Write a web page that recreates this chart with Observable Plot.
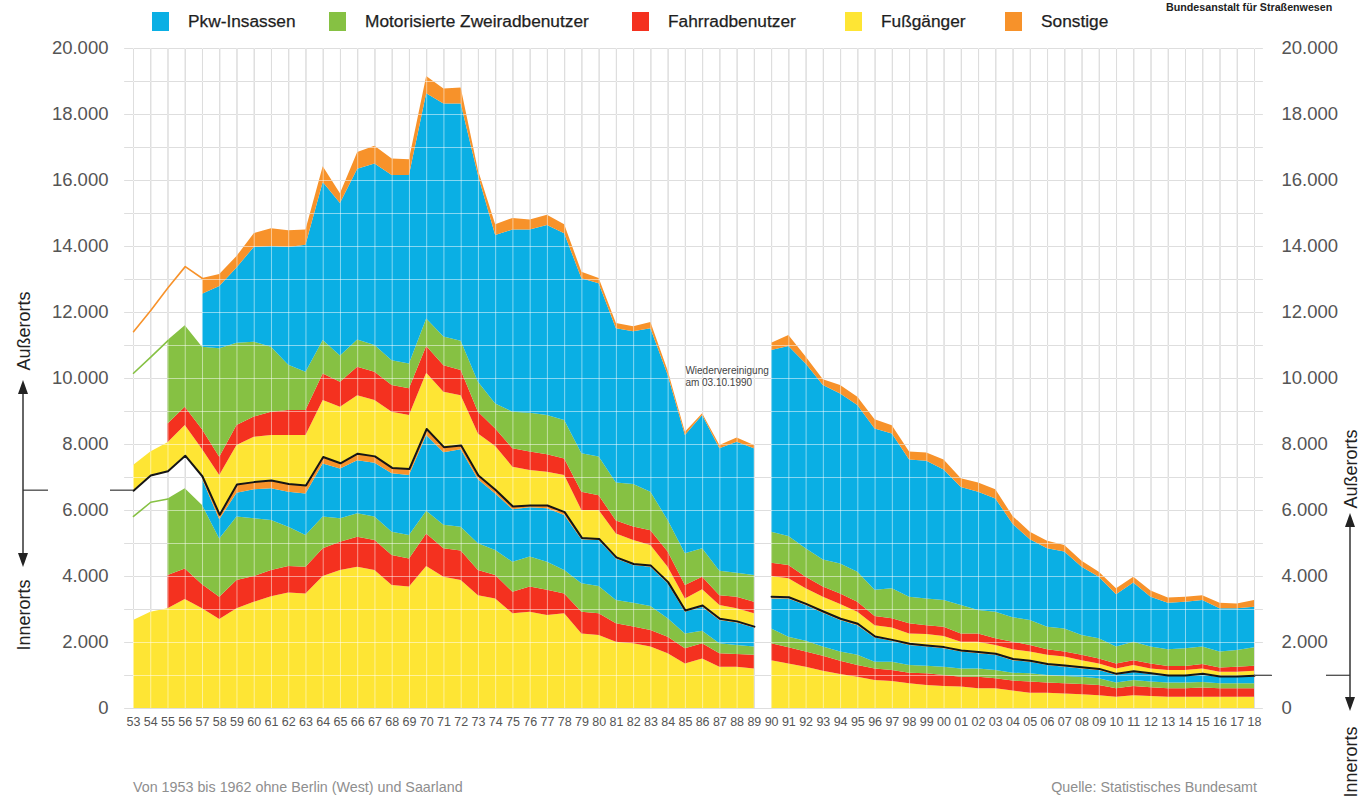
<!DOCTYPE html>
<html>
<head>
<meta charset="utf-8">
<script src="https://cdn.jsdelivr.net/npm/d3@7"></script>
<script src="https://cdn.jsdelivr.net/npm/@observablehq/plot@0.6"></script>
<style>
  body { margin: 0; background: #fff; font-family: "Liberation Sans", Arial, Helvetica, sans-serif; }
  #wrap { position: relative; width: 1363px; height: 798px; overflow: hidden; background: #fff; }
  #wrap > svg { position: absolute; left: 0; top: 0; }
  .key { position: absolute; top: 12px; width: 17px; height: 19px; }
  .lab { position: absolute; top: 10px; font-size: 17.3px; line-height: 22px; color: #1e1e1e; white-space: nowrap; -webkit-text-stroke: 0.25px #1e1e1e; }
  .bast { position: absolute; top: 1px; left: 1166px; font-size: 10.7px; font-weight: bold; color: #222; white-space: nowrap; }
  .foot { position: absolute; top: 779px; font-size: 14.3px; color: #8e8e8e; white-space: nowrap; }
</style>
</head>
<body>
<div id="wrap"></div>
<script>
// ---- Data (cumulative upper edges of each stacked band) ----
// Years 1953–1989 (früheres Bundesgebiet) and 1990–2018 (Deutschland)
const years = [1953,1954,1955,1956,1957,1958,1959,1960,1961,1962,1963,1964,1965,1966,1967,1968,1969,1970,1971,1972,1973,1974,1975,1976,1977,1978,1979,1980,1981,1982,1983,1984,1985,1986,1987,1988,1989,
  1990,1991,1992,1993,1994,1995,1996,1997,1998,1999,2000,2001,2002,2003,2004,2005,2006,2007,2008,2009,2010,2011,2012,2013,2014,2015,2016,2017,2018];

// Innerorts
const innerFussTop = [2670,2920,3020,3300,3020,2700,3020,3220,3390,3500,3470,4000,4180,4280,4180,3730,3680,4300,3980,3880,3420,3320,2870,2920,2820,2870,2260,2210,2010,1960,1860,1660,1350,1500,1250,1250,1200,
  1450,1350,1250,1130,1030,950,850,820,750,700,670,650,600,600,530,460,460,440,420,390,340,390,360,340,340,340,340,340,340];
const innerRadTop = [null,null,4030,4230,3750,3370,3880,4000,4180,4300,4280,4840,5040,5190,5090,4640,4530,5290,4840,4770,4180,4030,3520,3680,3580,3470,2920,2870,2570,2470,2360,2160,1810,1960,1660,1640,1610,
  1960,1840,1710,1580,1430,1300,1200,1150,1070,1050,1000,950,950,900,830,800,770,750,730,700,600,670,630,600,600,620,600,600,600];
const innerMotoTop = [5820,6250,6350,6660,6150,5140,5800,5750,5700,5490,5240,5800,5750,5900,5800,5340,5240,5980,5550,5490,4990,4790,4430,4590,4430,4180,3780,3700,3270,3190,3090,2720,2260,2340,1960,1910,1860,
  2410,2160,2040,1860,1710,1610,1400,1400,1300,1280,1250,1200,1200,1150,1070,1050,1000,970,950,900,770,850,800,770,770,790,750,750,750];
const innerPkwTop = [null,null,null,null,6950,5720,6520,6630,6660,6550,6500,7410,7260,7510,7430,7110,7060,8270,7750,7840,6930,6500,6020,6080,6050,5850,5110,5090,4530,4330,4280,3780,2920,3070,2670,2590,2440,
  3320,3320,3120,2890,2670,2510,2140,2040,1910,1860,1810,1710,1660,1610,1450,1400,1300,1250,1200,1150,1010,1090,1030,970,970,1010,940,940,960];
const innerTotal = [6600,7060,7190,7660,7030,5870,6790,6860,6910,6800,6760,7620,7430,7720,7640,7290,7260,8470,7920,7970,7060,6620,6120,6150,6150,5950,5170,5140,4580,4380,4330,3830,2970,3120,2720,2640,2480,
  3390,3370,3170,2940,2720,2570,2180,2080,1960,1910,1860,1760,1710,1660,1500,1450,1350,1300,1250,1200,1050,1130,1070,1000,1000,1050,970,970,990];
// Außerorts (stacked on top of Innerorts)
const outerFussTop = [7360,7770,8050,8575,7850,7060,7970,8220,8270,8270,8270,9330,9130,9480,9330,8980,8880,10160,9580,9480,8320,7940,7310,7210,7160,7060,6000,6000,5290,5090,4940,4280,3320,3600,3120,3020,2870,
  4000,3930,3630,3370,3150,2920,2510,2440,2260,2240,2180,2010,2010,1910,1780,1710,1610,1560,1450,1350,1200,1300,1200,1150,1150,1200,1100,1100,1130];
const outerRadTop = [null,null,8620,9130,8450,7615,8575,8830,8980,9030,9030,10140,9890,10340,10190,9790,9690,10970,10390,10240,8980,8470,7870,7770,7690,7560,6550,6450,5680,5500,5390,4740,3730,3980,3420,3370,3220,
  4400,4330,3980,3680,3470,3220,2790,2720,2570,2510,2460,2260,2260,2110,2010,1910,1780,1710,1610,1500,1350,1450,1350,1270,1270,1330,1230,1250,1280];
const outerMotoTop = [10160,10650,11150,11600,10950,10900,11070,11100,10950,10400,10190,11150,10680,11170,11000,10540,10440,11800,11260,11130,9890,9230,8980,8950,8880,8730,7720,7620,6830,6790,6550,5700,4690,4840,4160,4100,4030,
  5340,5210,4840,4500,4380,4130,3580,3630,3370,3320,3270,3120,2970,2920,2750,2670,2460,2410,2210,2110,1860,2010,1860,1780,1810,1860,1710,1760,1840];
const outerPkwTop = [null,null,null,null,12550,12790,13350,13970,14000,13970,14040,15940,15300,16340,16500,16150,16150,18630,18320,18320,16150,14330,14500,14500,14640,14390,13020,12870,11510,11420,11510,10100,8270,8880,7870,8070,7870,
  10850,10970,10440,9790,9530,9180,8470,8320,7530,7490,7230,6700,6550,6350,5580,5110,4840,4740,4280,3980,3450,3800,3370,3190,3220,3270,3020,3020,3070];
const total = [11420,12060,12750,13390,13030,13150,13700,14390,14540,14480,14500,16420,15600,16850,17040,16650,16630,19150,18770,18800,16300,14660,14850,14800,14950,14660,13220,13030,11670,11570,11700,10230,8370,8930,7970,8200,7970,
  11070,11300,10650,9960,9790,9430,8750,8570,7770,7740,7530,6960,6830,6630,5820,5340,5070,4940,4460,4130,3630,3980,3560,3350,3370,3420,3190,3170,3270];

const yTicks = [0,2000,4000,6000,8000,10000,12000,14000,16000,18000,20000];
const gridValues = [0,1000,2000,3000,4000,5000,6000,7000,8000,9000,10000,11000,12000,13000,14000,15000,16000,17000,18000,19000,20000];

const legendLabels = ["Pkw-Insassen", "Motorisierte Zweiradbenutzer", "Fahrradbenutzer", "Fußgänger", "Sonstige"];
const colors = {pkw: "#0aafe4", moto: "#86c143", rad: "#f4311f", fuss: "#fee534", sonst: "#f7922a"};
const legendColors = [colors.pkw, colors.moto, colors.rad, colors.fuss, colors.sonst];

// ---- Table built from the arrays ----
const rows = years.map((year, i) => ({
  year, seg: year < 1990 ? "West" : "Gesamt",
  zero: 0,
  innerFussTop: innerFussTop[i], innerRadTop: innerRadTop[i], innerMotoTop: innerMotoTop[i],
  innerPkwTop: innerPkwTop[i], innerTotal: innerTotal[i],
  outerFussTop: outerFussTop[i], outerRadTop: outerRadTop[i], outerMotoTop: outerMotoTop[i],
  outerPkwTop: outerPkwTop[i], total: total[i]
}));

const bands = [
  ["zero", "innerFussTop", colors.fuss],
  ["innerFussTop", "innerRadTop", colors.rad],
  ["innerRadTop", "innerMotoTop", colors.moto],
  ["innerMotoTop", "innerPkwTop", colors.pkw],
  ["innerPkwTop", "innerTotal", colors.sonst],
  ["innerTotal", "outerFussTop", colors.fuss],
  ["outerFussTop", "outerRadTop", colors.rad],
  ["outerRadTop", "outerMotoTop", colors.moto],
  ["outerMotoTop", "outerPkwTop", colors.pkw],
  ["outerPkwTop", "total", colors.sonst]
];

const deFmt = d => d3.format(",")(d).replace(/,/g, ".");

const chart = Plot.plot({
  width: 1363, height: 798,
  marginTop: 48, marginBottom: 90, marginLeft: 133, marginRight: 109,
  x: {type: "linear", domain: [1953, 2018], axis: null},
  y: {domain: [0, 20000], axis: null},
  style: {fontFamily: "'Liberation Sans', Arial, Helvetica, sans-serif", color: "#555", background: "transparent", overflow: "visible"},
  marks: [
    Plot.ruleY(gridValues, {x1: 1952.5, x2: 2018.5, stroke: "#bcbcbc", strokeWidth: 1}),
    Plot.ruleX(years, {y1: 0, y2: 20000, stroke: "#bcbcbc", strokeWidth: 1}),
    ...bands.map(([lo, hi, c]) => Plot.areaY(rows, {x: "year", y1: lo, y2: hi, z: "seg", fill: c, curve: "linear"})),
    Plot.ruleY(gridValues, {x1: 1952.5, x2: 2018.5, stroke: "#fff", strokeOpacity: 0.5, strokeWidth: 1}),
    Plot.ruleX(years, {y1: 0, y2: 20000, stroke: "#fff", strokeOpacity: 0.5, strokeWidth: 1}),
    Plot.line(rows.filter(d => d.year <= 1955), {x: "year", y: "innerMotoTop", stroke: colors.moto, strokeWidth: 1.6}),
    Plot.line(rows.filter(d => d.year <= 1955), {x: "year", y: "outerMotoTop", stroke: colors.moto, strokeWidth: 1.6}),
    Plot.line(rows.filter(d => d.year <= 1957), {x: "year", y: "total", stroke: colors.sonst, strokeWidth: 1.6}),
    Plot.line(rows, {x: "year", y: "innerTotal", z: "seg", stroke: "#151515", strokeWidth: 2}),
    Plot.axisX({anchor: "bottom", ticks: years, tickFormat: d => String(d).slice(2), tickSize: 0, tickPadding: 9, fontSize: 12.5, label: null}),
    Plot.axisY({anchor: "left", ticks: yTicks, tickFormat: deFmt, tickSize: 0, tickPadding: 25, fontSize: 18.5, label: null}),
    Plot.axisY({anchor: "right", ticks: yTicks, tickFormat: deFmt, tickSize: 0, tickPadding: 27, fontSize: 18.5, label: null}),
    Plot.text(["Wiedervereinigung\nam 03.10.1990"], {x: 1985, y: 10400, text: d => d, textAnchor: "start", lineAnchor: "top", fontSize: 10, lineHeight: 1.2, fill: "#444"})
  ]
});

const wrap = document.getElementById("wrap");
wrap.appendChild(chart);

// ---- Legend and captions ----
const keyLeft = [152, 329, 632, 845, 1005];
legendLabels.forEach((t, i) => {
  const k = document.createElement("div");
  k.className = "key"; k.style.left = keyLeft[i] + "px"; k.style.background = legendColors[i];
  wrap.appendChild(k);
  const l = document.createElement("div");
  l.className = "lab"; l.style.left = (keyLeft[i] + 36) + "px"; l.textContent = t;
  wrap.appendChild(l);
});
const b = document.createElement("div"); b.className = "bast"; b.textContent = "Bundesanstalt für Straßenwesen"; wrap.appendChild(b);
const f1 = document.createElement("div"); f1.className = "foot"; f1.style.left = "133px"; f1.textContent = "Von 1953 bis 1962 ohne Berlin (West) und Saarland"; wrap.appendChild(f1);
const f2 = document.createElement("div"); f2.className = "foot"; f2.style.right = "106px"; f2.textContent = "Quelle: Statistisches Bundesamt"; wrap.appendChild(f2);

// ---- Side markers (Innerorts / Außerorts) ----
const xs = chart.scale("x"), ys = chart.scale("y");
const yL = ys.apply(innerTotal[0]);
const yR = ys.apply(innerTotal[innerTotal.length - 1]);
const ov = d3.select(wrap).append("svg").attr("width", 1363).attr("height", 798)
  .style("position", "absolute").style("left", 0).style("top", 0).style("pointer-events", "none");
const ln = (x1, y1, x2, y2, w, c) => ov.append("line").attr("x1", x1).attr("y1", y1).attr("x2", x2).attr("y2", y2)
  .attr("stroke", c).attr("stroke-width", w);
const head = (x, tip, dir) => ov.append("path")
  .attr("d", `M${x},${tip} L${x - 5},${tip + dir * 14} L${x + 5},${tip + dir * 14} Z`).attr("fill", "#222");
// left
ln(23, yL, 48, yL, 1.4, "#555"); ln(110, yL, xs.apply(1953), yL, 1.4, "#555");
ln(23, 390, 23, 556, 1.5, "#333"); head(23, 380, 1); head(23, 567, -1);
// right
ln(xs.apply(2018), yR, 1272, yR, 1.4, "#555"); ln(1326, yR, 1350, yR, 1.4, "#555");
ln(1350, 522, 1350, 700, 1.5, "#333"); head(1350, 513, 1); head(1350, 711, -1);
const vlabel = (x, y, t) => ov.append("text").attr("transform", `translate(${x},${y}) rotate(-90)`)
  .attr("text-anchor", "middle").attr("dominant-baseline", "central")
  .attr("font-size", 18).attr("fill", "#222").attr("font-family", "'Liberation Sans', Arial, sans-serif").text(t);
vlabel(24, 331, "Außerorts"); vlabel(24, 615, "Innerorts");
vlabel(1351, 469, "Außerorts"); vlabel(1351, 762, "Innerorts");
</script>
</body>
</html>
